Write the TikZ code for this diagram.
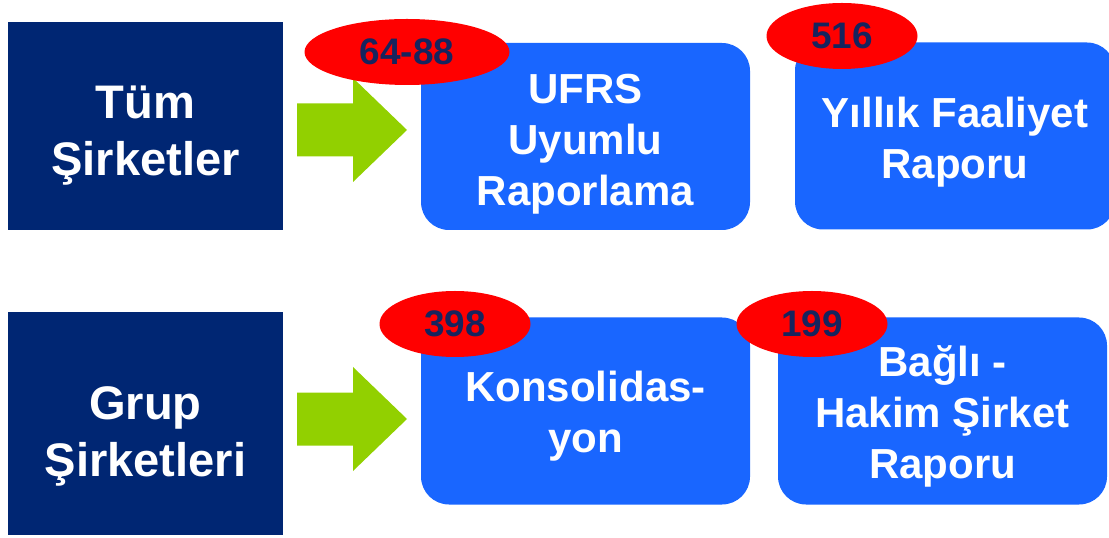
\documentclass[tikz,border=0pt]{standalone}
\usepackage{fontspec}
\setmainfont{Liberation Sans}
\usetikzlibrary{shapes.geometric}
\definecolor{navybox}{RGB}{0,38,115}
\definecolor{bluebox}{RGB}{25,102,255}
\definecolor{arrowgreen}{RGB}{146,208,0}
\definecolor{numnavy}{RGB}{22,36,94}
\newcommand{\padtop}[1]{\rule{0pt}{#1}}
\tikzset{
  groupbox/.style={fill=navybox, text=white, minimum width=2.75cm, align=center,
    font=\fontsize{13.4}{16.2}\selectfont\bfseries},
  reportbox/.style={fill=bluebox, rounded corners=0.28cm, text=white, minimum width=3.29cm,
    minimum height=1.87cm, align=center, font=\fontsize{11.95}{14.5}\selectfont\bfseries},
  countoval/.style={ellipse, fill=red, text=numnavy, inner sep=0pt, minimum height=0.66cm,
    minimum width=1.51cm, font=\fontsize{10.5}{12}\selectfont\bfseries}
}
\begin{document}
\begin{tikzpicture}
\useasboundingbox (0,0) rectangle (11.09,5.37);

\node[groupbox, minimum height=2.08cm] (tum) at (1.455,4.11) {\padtop{14.7pt}Tüm\\Şirketler};
\node[groupbox, minimum height=2.23cm] (grup) at (1.455,1.135) {\padtop{16.6pt}Grup\\Şirketleri};

\foreach \y in {4.07,1.18}
{
   \fill[arrowgreen] (2.97,\y-0.265) -- (3.53,\y-0.265) -- (3.53,\y-0.52) -- (4.07,\y)
      -- (3.53,\y+0.52) -- (3.53,\y+0.265) -- (2.97,\y+0.265) -- cycle;
}

\node[reportbox] (ufrs) at (5.855,4.005) {\padtop{12.6pt}UFRS\\Uyumlu\\Raporlama};
\node[reportbox, minimum width=3.2cm] (faaliyet) at (9.55,4.01) {\padtop{12.1pt}Yıllık Faaliyet\\Raporu};
\node[reportbox] (konsol) at (5.855,1.26) {\padtop{11.5pt}Konsolidas-\\yon};
\node[reportbox] (bagli) at (9.425,1.26) {\padtop{11.8pt}Bağlı -\\Hakim Şirket\\Raporu};

\node[countoval, minimum width=2.05cm] (ufrsno) at (4.07,4.85) {64-88};
\node[countoval] (faaliyetno) at (8.42,5.01) {516};
\node[countoval] (konsolno) at (4.55,2.13) {398};
\node[countoval] (baglino) at (8.12,2.13) {199};
\end{tikzpicture}
\end{document}
